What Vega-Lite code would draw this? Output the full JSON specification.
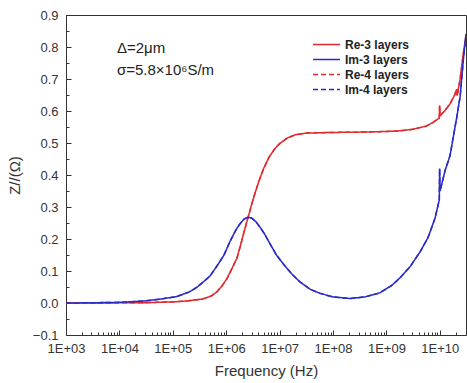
{
  "$schema": "https://vega.github.io/schema/vega-lite/v6.json",
  "width": 400,
  "height": 320,
  "autosize": "none",
  "padding": {"left": 66, "top": 15, "right": 1, "bottom": 48},
  "background": "white",
  "config": {
    "font": "Liberation Sans",
    "view": {"stroke": "#333333", "strokeWidth": 1},
    "axis": {
      "domainColor": "#333333",
      "domainWidth": 1,
      "tickColor": "#333333",
      "tickWidth": 1,
      "grid": false,
      "labelFont": "Liberation Sans",
      "labelFontSize": 13,
      "labelColor": "#333333",
      "titleFont": "Liberation Sans",
      "titleFontSize": 15,
      "titleFontWeight": "normal",
      "titleColor": "#333333"
    },
    "legend": {
      "title": null,
      "orient": "none",
      "legendX": 246,
      "legendY": 22,
      "padding": 0,
      "symbolType": "stroke",
      "symbolSize": 729,
      "symbolStrokeWidth": 1.5,
      "clipHeight": 15,
      "rowPadding": 0,
      "labelOffset": 4,
      "labelFont": "Liberation Sans",
      "labelFontSize": 12,
      "labelFontWeight": "bold",
      "labelColor": "#222222"
    }
  },
  "resolve": {"axis": {"x": "independent", "y": "independent"}},
  "layer": [
    {
      "data": {
        "values": [
          {"s": "Re-4 layers", "f": 1000, "v": 0},
          {"s": "Re-4 layers", "f": 3162, "v": 0},
          {"s": "Re-4 layers", "f": 10000, "v": 0.0005},
          {"s": "Re-4 layers", "f": 31623, "v": 0.001},
          {"s": "Re-4 layers", "f": 117490, "v": 0.004},
          {"s": "Re-4 layers", "f": 199526, "v": 0.007},
          {"s": "Re-4 layers", "f": 371535, "v": 0.013},
          {"s": "Re-4 layers", "f": 524807, "v": 0.022},
          {"s": "Re-4 layers", "f": 660693, "v": 0.034},
          {"s": "Re-4 layers", "f": 831764, "v": 0.053},
          {"s": "Re-4 layers", "f": 1023293, "v": 0.075},
          {"s": "Re-4 layers", "f": 1258925, "v": 0.105},
          {"s": "Re-4 layers", "f": 1584893, "v": 0.14},
          {"s": "Re-4 layers", "f": 1819701, "v": 0.175},
          {"s": "Re-4 layers", "f": 2137962, "v": 0.22},
          {"s": "Re-4 layers", "f": 2570396, "v": 0.268},
          {"s": "Re-4 layers", "f": 3162278, "v": 0.322},
          {"s": "Re-4 layers", "f": 3981072, "v": 0.375},
          {"s": "Re-4 layers", "f": 5011872, "v": 0.42},
          {"s": "Re-4 layers", "f": 6309573, "v": 0.455},
          {"s": "Re-4 layers", "f": 7943282, "v": 0.48},
          {"s": "Re-4 layers", "f": 10000000, "v": 0.498},
          {"s": "Re-4 layers", "f": 14125375, "v": 0.516},
          {"s": "Re-4 layers", "f": 19952623, "v": 0.526},
          {"s": "Re-4 layers", "f": 31622777, "v": 0.531},
          {"s": "Re-4 layers", "f": 100000000, "v": 0.533},
          {"s": "Re-4 layers", "f": 316227766, "v": 0.534},
          {"s": "Re-4 layers", "f": 1000000000, "v": 0.536},
          {"s": "Re-4 layers", "f": 1778279410, "v": 0.538},
          {"s": "Re-4 layers", "f": 3162277660, "v": 0.543},
          {"s": "Re-4 layers", "f": 5623413252, "v": 0.553},
          {"s": "Re-4 layers", "f": 7585775750, "v": 0.565},
          {"s": "Re-4 layers", "f": 9772372210, "v": 0.578},
          {"s": "Re-4 layers", "f": 9908319448, "v": 0.617},
          {"s": "Re-4 layers", "f": 10092528861, "v": 0.585},
          {"s": "Re-4 layers", "f": 12589254118, "v": 0.602},
          {"s": "Re-4 layers", "f": 15488166189, "v": 0.622},
          {"s": "Re-4 layers", "f": 19054607180, "v": 0.651},
          {"s": "Re-4 layers", "f": 20653801558, "v": 0.668},
          {"s": "Re-4 layers", "f": 21134890398, "v": 0.648},
          {"s": "Re-4 layers", "f": 23988329190, "v": 0.7},
          {"s": "Re-4 layers", "f": 27542287033, "v": 0.78},
          {"s": "Re-4 layers", "f": 30902954325, "v": 0.835},
          {"s": "Im-4 layers", "f": 1000, "v": 0},
          {"s": "Im-4 layers", "f": 3162, "v": 0.0008},
          {"s": "Im-4 layers", "f": 10000, "v": 0.002},
          {"s": "Im-4 layers", "f": 28184, "v": 0.006},
          {"s": "Im-4 layers", "f": 57544, "v": 0.012},
          {"s": "Im-4 layers", "f": 117490, "v": 0.02},
          {"s": "Im-4 layers", "f": 199526, "v": 0.034},
          {"s": "Im-4 layers", "f": 281838, "v": 0.049},
          {"s": "Im-4 layers", "f": 398107, "v": 0.07},
          {"s": "Im-4 layers", "f": 501187, "v": 0.085},
          {"s": "Im-4 layers", "f": 660693, "v": 0.114},
          {"s": "Im-4 layers", "f": 891251, "v": 0.147},
          {"s": "Im-4 layers", "f": 1174898, "v": 0.192},
          {"s": "Im-4 layers", "f": 1513561, "v": 0.228},
          {"s": "Im-4 layers", "f": 1819701, "v": 0.248},
          {"s": "Im-4 layers", "f": 2187762, "v": 0.263},
          {"s": "Im-4 layers", "f": 2570396, "v": 0.268},
          {"s": "Im-4 layers", "f": 3019952, "v": 0.265},
          {"s": "Im-4 layers", "f": 3548134, "v": 0.255},
          {"s": "Im-4 layers", "f": 4265795, "v": 0.238},
          {"s": "Im-4 layers", "f": 5248075, "v": 0.215},
          {"s": "Im-4 layers", "f": 6606934, "v": 0.185},
          {"s": "Im-4 layers", "f": 8709636, "v": 0.15},
          {"s": "Im-4 layers", "f": 11748976, "v": 0.122},
          {"s": "Im-4 layers", "f": 16595869, "v": 0.092},
          {"s": "Im-4 layers", "f": 23988329, "v": 0.066},
          {"s": "Im-4 layers", "f": 37153523, "v": 0.043},
          {"s": "Im-4 layers", "f": 57543994, "v": 0.03},
          {"s": "Im-4 layers", "f": 100000000, "v": 0.019},
          {"s": "Im-4 layers", "f": 208929613, "v": 0.014},
          {"s": "Im-4 layers", "f": 398107171, "v": 0.019},
          {"s": "Im-4 layers", "f": 758577575, "v": 0.032},
          {"s": "Im-4 layers", "f": 1258925412, "v": 0.055},
          {"s": "Im-4 layers", "f": 1778279410, "v": 0.078},
          {"s": "Im-4 layers", "f": 2818382931, "v": 0.115},
          {"s": "Im-4 layers", "f": 4265795188, "v": 0.16},
          {"s": "Im-4 layers", "f": 6025595861, "v": 0.205},
          {"s": "Im-4 layers", "f": 8128305162, "v": 0.265},
          {"s": "Im-4 layers", "f": 9772372210, "v": 0.322},
          {"s": "Im-4 layers", "f": 9908319448, "v": 0.42},
          {"s": "Im-4 layers", "f": 10092528861, "v": 0.35},
          {"s": "Im-4 layers", "f": 12589254118, "v": 0.415},
          {"s": "Im-4 layers", "f": 15488166189, "v": 0.46},
          {"s": "Im-4 layers", "f": 20892961309, "v": 0.583},
          {"s": "Im-4 layers", "f": 23988329190, "v": 0.645},
          {"s": "Im-4 layers", "f": 27542287033, "v": 0.76},
          {"s": "Im-4 layers", "f": 30902954325, "v": 0.84}
        ]
      },
      "mark": {"type": "line", "strokeWidth": 1.5, "clip": true},
      "encoding": {
        "x": {
          "field": "f",
          "type": "quantitative",
          "scale": {"type": "log", "domain": [1000, 30902954325], "nice": false},
          "axis": {
            "orient": "bottom",
            "title": null,
            "labels": false,
            "domain": false,
            "ticks": true,
            "tickSize": 3,
            "offset": -3,
            "values": [2e3,3e3,4e3,5e3,6e3,7e3,8e3,9e3,2e4,3e4,4e4,5e4,6e4,7e4,8e4,9e4,2e5,3e5,4e5,5e5,6e5,7e5,8e5,9e5,2e6,3e6,4e6,5e6,6e6,7e6,8e6,9e6,2e7,3e7,4e7,5e7,6e7,7e7,8e7,9e7,2e8,3e8,4e8,5e8,6e8,7e8,8e8,9e8,2e9,3e9,4e9,5e9,6e9,7e9,8e9,9e9,2e10]
          }
        },
        "y": {
          "field": "v",
          "type": "quantitative",
          "scale": {"domain": [-0.1, 0.9], "nice": false, "zero": false},
          "axis": {
            "orient": "left",
            "title": null,
            "labels": false,
            "domain": false,
            "ticks": true,
            "tickSize": 3,
            "offset": -3,
            "values": [-0.05, 0.05, 0.15, 0.25, 0.35, 0.45, 0.55, 0.65, 0.75, 0.85]
          }
        },
        "color": {
          "field": "s",
          "type": "nominal",
          "scale": {
            "domain": ["Re-3 layers", "Im-3 layers", "Re-4 layers", "Im-4 layers"],
            "range": ["#e02a2e", "#2a2ac8", "#e02a2e", "#2a2ac8"]
          }
        },
        "strokeDash": {
          "field": "s",
          "type": "nominal",
          "scale": {
            "domain": ["Re-3 layers", "Im-3 layers", "Re-4 layers", "Im-4 layers"],
            "range": [[1, 0], [1, 0], [5, 3], [5, 3]]
          }
        }
      }
    },
    {
      "data": {
        "values": [
          {"s": "Re-3 layers", "f": 1000, "v": 0},
          {"s": "Re-3 layers", "f": 3162, "v": 0},
          {"s": "Re-3 layers", "f": 10000, "v": 0.0005},
          {"s": "Re-3 layers", "f": 31623, "v": 0.001},
          {"s": "Re-3 layers", "f": 117490, "v": 0.004},
          {"s": "Re-3 layers", "f": 199526, "v": 0.007},
          {"s": "Re-3 layers", "f": 371535, "v": 0.013},
          {"s": "Re-3 layers", "f": 524807, "v": 0.022},
          {"s": "Re-3 layers", "f": 660693, "v": 0.034},
          {"s": "Re-3 layers", "f": 831764, "v": 0.053},
          {"s": "Re-3 layers", "f": 1023293, "v": 0.075},
          {"s": "Re-3 layers", "f": 1258925, "v": 0.105},
          {"s": "Re-3 layers", "f": 1584893, "v": 0.14},
          {"s": "Re-3 layers", "f": 1819701, "v": 0.175},
          {"s": "Re-3 layers", "f": 2137962, "v": 0.22},
          {"s": "Re-3 layers", "f": 2570396, "v": 0.268},
          {"s": "Re-3 layers", "f": 3162278, "v": 0.322},
          {"s": "Re-3 layers", "f": 3981072, "v": 0.375},
          {"s": "Re-3 layers", "f": 5011872, "v": 0.42},
          {"s": "Re-3 layers", "f": 6309573, "v": 0.455},
          {"s": "Re-3 layers", "f": 7943282, "v": 0.48},
          {"s": "Re-3 layers", "f": 10000000, "v": 0.498},
          {"s": "Re-3 layers", "f": 14125375, "v": 0.516},
          {"s": "Re-3 layers", "f": 19952623, "v": 0.526},
          {"s": "Re-3 layers", "f": 31622777, "v": 0.531},
          {"s": "Re-3 layers", "f": 100000000, "v": 0.533},
          {"s": "Re-3 layers", "f": 316227766, "v": 0.534},
          {"s": "Re-3 layers", "f": 1000000000, "v": 0.536},
          {"s": "Re-3 layers", "f": 1778279410, "v": 0.538},
          {"s": "Re-3 layers", "f": 3162277660, "v": 0.543},
          {"s": "Re-3 layers", "f": 5623413252, "v": 0.553},
          {"s": "Re-3 layers", "f": 7585775750, "v": 0.565},
          {"s": "Re-3 layers", "f": 9772372210, "v": 0.578},
          {"s": "Re-3 layers", "f": 9908319448, "v": 0.617},
          {"s": "Re-3 layers", "f": 10092528861, "v": 0.585},
          {"s": "Re-3 layers", "f": 12589254118, "v": 0.602},
          {"s": "Re-3 layers", "f": 15488166189, "v": 0.622},
          {"s": "Re-3 layers", "f": 19054607180, "v": 0.651},
          {"s": "Re-3 layers", "f": 20653801558, "v": 0.668},
          {"s": "Re-3 layers", "f": 21134890398, "v": 0.648},
          {"s": "Re-3 layers", "f": 23988329190, "v": 0.7},
          {"s": "Re-3 layers", "f": 27542287033, "v": 0.78},
          {"s": "Re-3 layers", "f": 30902954325, "v": 0.835},
          {"s": "Im-3 layers", "f": 1000, "v": 0},
          {"s": "Im-3 layers", "f": 3162, "v": 0.0008},
          {"s": "Im-3 layers", "f": 10000, "v": 0.002},
          {"s": "Im-3 layers", "f": 28184, "v": 0.006},
          {"s": "Im-3 layers", "f": 57544, "v": 0.012},
          {"s": "Im-3 layers", "f": 117490, "v": 0.02},
          {"s": "Im-3 layers", "f": 199526, "v": 0.034},
          {"s": "Im-3 layers", "f": 281838, "v": 0.049},
          {"s": "Im-3 layers", "f": 398107, "v": 0.07},
          {"s": "Im-3 layers", "f": 501187, "v": 0.085},
          {"s": "Im-3 layers", "f": 660693, "v": 0.114},
          {"s": "Im-3 layers", "f": 891251, "v": 0.147},
          {"s": "Im-3 layers", "f": 1174898, "v": 0.192},
          {"s": "Im-3 layers", "f": 1513561, "v": 0.228},
          {"s": "Im-3 layers", "f": 1819701, "v": 0.248},
          {"s": "Im-3 layers", "f": 2187762, "v": 0.263},
          {"s": "Im-3 layers", "f": 2570396, "v": 0.268},
          {"s": "Im-3 layers", "f": 3019952, "v": 0.265},
          {"s": "Im-3 layers", "f": 3548134, "v": 0.255},
          {"s": "Im-3 layers", "f": 4265795, "v": 0.238},
          {"s": "Im-3 layers", "f": 5248075, "v": 0.215},
          {"s": "Im-3 layers", "f": 6606934, "v": 0.185},
          {"s": "Im-3 layers", "f": 8709636, "v": 0.15},
          {"s": "Im-3 layers", "f": 11748976, "v": 0.122},
          {"s": "Im-3 layers", "f": 16595869, "v": 0.092},
          {"s": "Im-3 layers", "f": 23988329, "v": 0.066},
          {"s": "Im-3 layers", "f": 37153523, "v": 0.043},
          {"s": "Im-3 layers", "f": 57543994, "v": 0.03},
          {"s": "Im-3 layers", "f": 100000000, "v": 0.019},
          {"s": "Im-3 layers", "f": 208929613, "v": 0.014},
          {"s": "Im-3 layers", "f": 398107171, "v": 0.019},
          {"s": "Im-3 layers", "f": 758577575, "v": 0.032},
          {"s": "Im-3 layers", "f": 1258925412, "v": 0.055},
          {"s": "Im-3 layers", "f": 1778279410, "v": 0.078},
          {"s": "Im-3 layers", "f": 2818382931, "v": 0.115},
          {"s": "Im-3 layers", "f": 4265795188, "v": 0.16},
          {"s": "Im-3 layers", "f": 6025595861, "v": 0.205},
          {"s": "Im-3 layers", "f": 8128305162, "v": 0.265},
          {"s": "Im-3 layers", "f": 9772372210, "v": 0.322},
          {"s": "Im-3 layers", "f": 9908319448, "v": 0.42},
          {"s": "Im-3 layers", "f": 10092528861, "v": 0.35},
          {"s": "Im-3 layers", "f": 12589254118, "v": 0.415},
          {"s": "Im-3 layers", "f": 15488166189, "v": 0.46},
          {"s": "Im-3 layers", "f": 20892961309, "v": 0.583},
          {"s": "Im-3 layers", "f": 23988329190, "v": 0.645},
          {"s": "Im-3 layers", "f": 27542287033, "v": 0.76},
          {"s": "Im-3 layers", "f": 30902954325, "v": 0.84}
        ]
      },
      "mark": {"type": "line", "strokeWidth": 1.5, "clip": true},
      "encoding": {
        "x": {
          "field": "f",
          "type": "quantitative",
          "axis": {
            "orient": "bottom",
            "title": "Frequency (Hz)",
            "titlePadding": 8,
            "ticks": false,
            "domain": true,
            "values": [1e3,1e4,1e5,1e6,1e7,1e8,1e9,1e10],
            "labelExpr": "'1E+' + format(round(log(datum.value)/LN10), '02d')",
            "labelPadding": 7,
            "labelFlush": false,
            "labelOverlap": false,
            "labelBound": false
          }
        },
        "y": {
          "field": "v",
          "type": "quantitative",
          "axis": {
            "orient": "left",
            "title": "Z//(Ω)",
            "titlePadding": 10,
            "ticks": false,
            "domain": true,
            "values": [-0.1,0,0.1,0.2,0.3,0.4,0.5,0.6,0.7,0.8,0.9],
            "format": ".1f",
            "labelPadding": 8,
            "labelFlush": false,
            "labelOverlap": false,
            "labelBound": false
          }
        },
        "color": {
          "field": "s",
          "type": "nominal",
          "scale": {
            "domain": ["Re-3 layers", "Im-3 layers", "Re-4 layers", "Im-4 layers"],
            "range": ["#e02a2e", "#2a2ac8", "#e02a2e", "#2a2ac8"]
          }
        },
        "strokeDash": {
          "field": "s",
          "type": "nominal",
          "scale": {
            "domain": ["Re-3 layers", "Im-3 layers", "Re-4 layers", "Im-4 layers"],
            "range": [[1, 0], [1, 0], [5, 3], [5, 3]]
          }
        }
      }
    },
    {
      "data": {
        "values": [
          {"f": 9000, "v": 0.78, "label": "Δ=2μm"},
          {"f": 9000, "v": 0.711, "label": "σ=5.8×10⁶S/m"}
        ]
      },
      "mark": {"type": "text", "align": "left", "baseline": "alphabetic", "font": "Liberation Sans", "fontSize": 15, "color": "#222222"},
      "encoding": {
        "x": {
          "field": "f",
          "type": "quantitative",
          "axis": {
            "orient": "bottom",
            "title": null,
            "labels": false,
            "domain": false,
            "ticks": true,
            "tickSize": 5,
            "offset": -5,
            "values": [1e3,1e4,1e5,1e6,1e7,1e8,1e9,1e10]
          }
        },
        "y": {
          "field": "v",
          "type": "quantitative",
          "axis": {
            "orient": "left",
            "title": null,
            "labels": false,
            "domain": false,
            "ticks": true,
            "tickSize": 5,
            "offset": -5,
            "values": [-0.1,0,0.1,0.2,0.3,0.4,0.5,0.6,0.7,0.8,0.9]
          }
        },
        "text": {"field": "label", "type": "nominal"}
      }
    }
  ]
}
